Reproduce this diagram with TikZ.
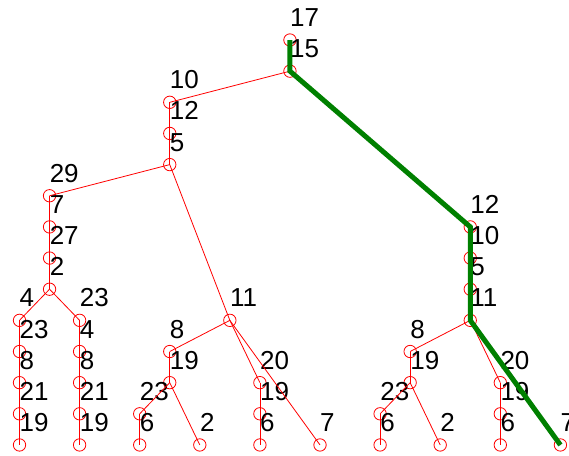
\documentclass[tikz,border=0pt]{standalone}
\usepackage{fontspec}
\setmainfont{Liberation Sans}
\definecolor{pathgreen}{RGB}{0,128,0}
\begin{document}
\begin{tikzpicture}[x=1pt,y=-1pt,
  vert/.style={circle,draw=red,line width=0.8pt,minimum size=12.4pt,inner sep=0pt},
  lab/.style={anchor=base west,inner sep=0pt,font=\fontsize{26}{26}\selectfont,text=black},
  edge/.style={draw=red,line width=0.8pt},
  hilite/.style={draw=pathgreen,line width=5pt}]
\useasboundingbox (0,0) rectangle (569,455);
\newcommand\V[4]{\node[vert] (#1) at (#2,#3) {};\node[lab] (#1l) at (#2,#3-13.5) {#4};}
% top
\V{n1}{289.95}{40}{17}
\V{n2}{289.95}{71.15}{15}
% left subtree
\V{n3}{169.75}{102.3}{10}
\V{n4}{169.75}{133.45}{12}
\V{n5}{169.75}{164.6}{5}
\V{n6}{49.55}{195.75}{29}
\V{n7}{49.55}{226.9}{7}
\V{n8}{49.55}{258.05}{27}
\V{n9}{49.55}{289.2}{2}
\V{n10}{19.5}{320.35}{4}
\V{n11}{19.5}{351.5}{23}
\V{n12}{19.5}{382.65}{8}
\V{n13}{19.5}{413.8}{21}
\V{n14}{19.5}{444.95}{19}
\V{n15}{79.6}{320.35}{23}
\V{n16}{79.6}{351.5}{4}
\V{n17}{79.6}{382.65}{8}
\V{n18}{79.6}{413.8}{21}
\V{n19}{79.6}{444.95}{19}
\V{n20}{229.85}{320.35}{11}
\V{n21}{169.75}{351.5}{8}
\V{n22}{169.75}{382.65}{19}
\V{n23}{139.7}{413.8}{23}
\V{n24}{139.7}{444.95}{6}
\V{n25}{199.8}{444.95}{2}
\V{n26}{259.9}{382.65}{20}
\V{n27}{259.9}{413.8}{19}
\V{n28}{259.9}{444.95}{6}
\V{n29}{320.0}{444.95}{7}
% right subtree
\V{m1}{470.25}{226.9}{12}
\V{m2}{470.25}{258.05}{10}
\V{m3}{470.25}{289.2}{5}
\V{m4}{470.25}{320.35}{11}
\V{m5}{410.15}{351.5}{8}
\V{m6}{410.15}{382.65}{19}
\V{m7}{380.1}{413.8}{23}
\V{m8}{380.1}{444.95}{6}
\V{m9}{440.2}{444.95}{2}
\V{m10}{500.3}{382.65}{20}
\V{m11}{500.3}{413.8}{19}
\V{m12}{500.3}{444.95}{6}
\V{m13}{560.4}{444.95}{7}
% edges
\foreach \a/\b in {n1/n2,n2/n3,n3/n4,n4/n5,n5/n6,n6/n7,n7/n8,n8/n9,
  n9/n10,n10/n11,n11/n12,n12/n13,n13/n14,
  n9/n15,n15/n16,n16/n17,n17/n18,n18/n19,
  n5/n20,n20/n21,n21/n22,n22/n23,n23/n24,n22/n25,
  n20/n26,n26/n27,n27/n28,n20/n29,
  n2/m1,m1/m2,m2/m3,m3/m4,m4/m5,m5/m6,m6/m7,m7/m8,m6/m9,
  m4/m10,m10/m11,m11/m12,m4/m13}
  \draw[edge] (\a.center) -- (\b.center);
% highlighted path
\draw[hilite] (n1.center) -- (n2.center) -- (m1.center) -- (m2.center)
  -- (m3.center) -- (m4.center) -- (m13.center);
\end{tikzpicture}
\end{document}
